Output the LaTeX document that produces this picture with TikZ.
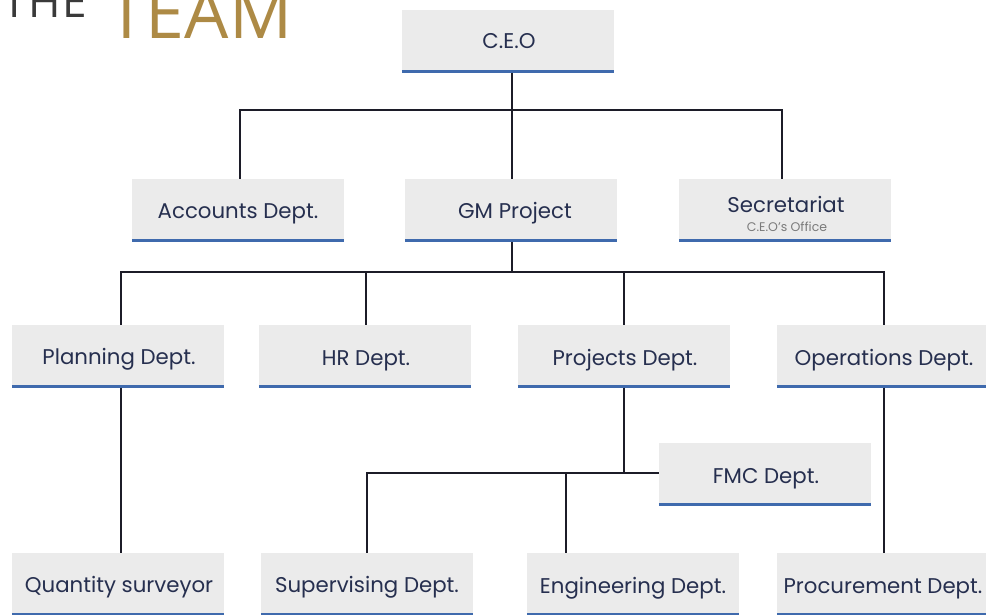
\documentclass[tikz,border=0pt]{standalone}
\usepackage{fontspec}
\setmainfont{Poppins}
\newfontfamily\titlefont{Open Sans}
\definecolor{boxgray}{HTML}{EBEBEB}
\definecolor{blueline}{HTML}{3F6AAD}
\definecolor{txtnavy}{HTML}{262F4F}
\definecolor{subgray}{HTML}{7A7A7A}
\definecolor{linedark}{HTML}{1C1C28}
\definecolor{gold}{HTML}{AD8A45}
\definecolor{titlegray}{HTML}{3A3A3A}
\begin{document}
\begin{tikzpicture}[x=1pt,y=-1pt,
  orgbox/.style={rectangle, fill=boxgray, minimum width=212pt, minimum height=61pt,
     inner sep=0pt, text=txtnavy, font=\fontsize{21.3}{23}\selectfont, align=center},
  boxtext/.style={inner sep=0pt, text=txtnavy, font=\fontsize{21.3}{23}\selectfont, anchor=base},
  bline/.style={draw=blueline, line width=2.6pt},
  conn/.style={draw=linedark, line width=1.6pt}]
\useasboundingbox (0,0) rectangle (986,614);
% title
\node[anchor=base west, inner sep=0pt, text=titlegray, font=\titlefont\fontsize{44}{44}\selectfont] (tthe) at (2,17) {T\kern2pt H\kern2pt E};
\node[anchor=base west, inner sep=0pt, text=gold, font=\titlefont\fontsize{70}{70}\selectfont] (tteam) at (107,38) {TEAM};
% boxes
\node[orgbox] (ceo) at (508,40.5) {};
\node[orgbox] (acc) at (238,209.5) {};
\node[orgbox] (gm) at (511,209.5) {};
\node[orgbox] (sec) at (785,209.5) {};
\node[orgbox] (plan) at (118,355.5) {};
\node[orgbox] (hr) at (365,355.5) {};
\node[orgbox] (proj) at (624,355.5) {};
\node[orgbox] (ops) at (883,355.5) {};
\node[orgbox] (fmc) at (765,473.5) {};
\node[orgbox] (qs) at (118,583.5) {};
\node[orgbox] (sup) at (367,583.5) {};
\node[orgbox] (eng) at (633,583.5) {};
\node[orgbox] (proc) at (883,583.5) {};
% texts (baselines)
\node[boxtext] (ceot) at (509,48) {C.E.O};
\node[boxtext] (acct) at (238,218) {Accounts Dept.};
\node[boxtext] (gmt) at (515,218) {GM Project};
\node[boxtext] (sect) at (786,212) {Secretariat};
\node[inner sep=0pt, text=subgray, font=\fontsize{12.5}{14}\selectfont, anchor=base] (secs) at (787,231) {C.E.O's Office};
\node[boxtext] (plant) at (119,364) {Planning Dept.};
\node[boxtext] (hrt) at (366,365) {HR Dept.};
\node[boxtext] (projt) at (625,365) {Projects Dept.};
\node[boxtext] (opst) at (884,365) {Operations Dept.};
\node[boxtext] (fmct) at (766,483) {FMC Dept.};
\node[boxtext] (qst) at (119,592) {Quantity surveyor};
\node[boxtext] (supt) at (367,592) {Supervising Dept.};
\node[boxtext] (engt) at (633,593) {Engineering Dept.};
\node[boxtext] (proct) at (883,593) {Procurement Dept.};
\foreach \n in {ceo,acc,gm,sec,plan,hr,proj,ops,fmc,qs,sup,eng,proc}
  \draw[bline] (\n.south west) -- (\n.south east);
% connector junctions
\coordinate (j1) at (512,110);
\coordinate (j2) at (512,272);
\coordinate (j3) at (624,473);
% CEO level
\draw[conn] ([yshift=-1.3pt]ceo.south -| j1) -- (j1);
\draw[conn] (acc.north -| 240,0) |- (j1) -| (sec.north -| 782,0);
\draw[conn] (j1) -- (gm.north -| j1);
% GM level
\draw[conn] ([yshift=-1.3pt]gm.south -| j2) -- (j2);
\draw[conn] (plan.north -| 121,0) |- (j2) -| (ops.north -| 884,0);
\draw[conn] (hr.north -| 366,0) -- (366,272);
\draw[conn] (proj.north) -- (proj.north |- j2);
% lower
\draw[conn] ([yshift=-1.3pt]plan.south -| 121,0) -- (qs.north -| 121,0);
\draw[conn] ([yshift=-1.3pt]ops.south -| 884,0) -- (proc.north -| 884,0);
\draw[conn] ([yshift=-1.3pt]proj.south) -- (j3) -- (fmc.west |- j3);
\draw[conn] (sup.north) |- (j3);
\draw[conn] (eng.north -| 566,0) -- (566,473);
\end{tikzpicture}
\end{document}
